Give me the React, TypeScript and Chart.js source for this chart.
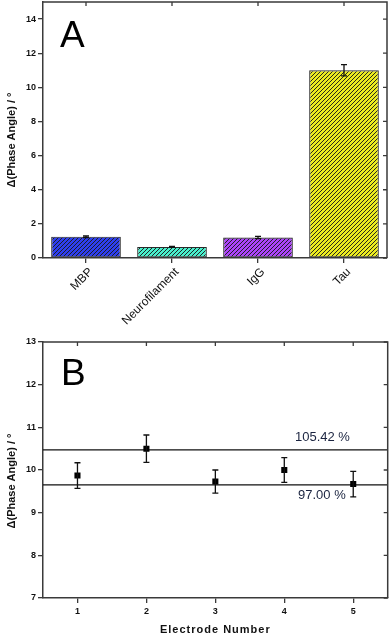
import React, { useEffect, useRef } from "react";
import { Chart, registerables } from "chart.js";

Chart.register(...registerables);

// ---------- Data: panel A ----------
const categoriesA = ["MBP", "Neurofilament", "IgG", "Tau"];
const valuesA = [1.25, 0.65, 1.2, 11.0];
const errorsA = [0.05, 0.03, 0.07, 0.33];
const colorsA = ["#2e3ff0", "#48f0cc", "#ac44fa", "#ecec1e"];
const yTicksA = [0, 2, 4, 6, 8, 10, 12, 14];
const yRangeA = [0, 15];

// ---------- Data: panel B ----------
const electrodes = [1, 2, 3, 4, 5];
const valuesB = [9.87, 10.5, 9.73, 10.0, 9.67];
const errorsB = [0.3, 0.32, 0.27, 0.29, 0.3];
const refLinesB = [10.47, 9.65];
const refLabelsB = ["105.42 %", "97.00 %"];
const yTicksB = [7, 8, 9, 10, 11, 12, 13];
const yRangeB = [7, 13];
const xRangeB = [0.5, 5.5];

const FONT = "'Liberation Sans', Arial, sans-serif";
const AXIS = "#3a3a3a";
const YTITLE = "\u0394(Phase Angle) / \u00b0";

function makeHatch(color: string): CanvasPattern | string {
  const s = 4;
  const c = document.createElement("canvas");
  c.width = s;
  c.height = s;
  const g = c.getContext("2d");
  if (!g) return color;
  g.fillStyle = color;
  g.fillRect(0, 0, s, s);
  g.strokeStyle = "#1c1c1c";
  g.lineWidth = 0.95;
  g.beginPath();
  g.moveTo(0, s);
  g.lineTo(s, 0);
  g.moveTo(-1, 1);
  g.lineTo(1, -1);
  g.moveTo(s - 1, s + 1);
  g.lineTo(s + 1, s - 1);
  g.stroke();
  const p = g.createPattern(c, "repeat");
  return p || color;
}

function zeroPad(s: any) {
  s.paddingTop = 0;
  s.paddingBottom = 0;
  s.paddingLeft = 0;
  s.paddingRight = 0;
}

function drawFrame(chart: any, topTickPx: number[], rightTickPx: number[]) {
  const { ctx, chartArea: a } = chart;
  ctx.save();
  ctx.strokeStyle = AXIS;
  ctx.lineWidth = 1.5;
  ctx.beginPath();
  ctx.moveTo(a.left, a.top);
  ctx.lineTo(a.right, a.top);
  ctx.lineTo(a.right, a.bottom);
  ctx.stroke();
  ctx.lineWidth = 1.3;
  ctx.beginPath();
  topTickPx.forEach((x) => {
    ctx.moveTo(x, a.top);
    ctx.lineTo(x, a.top + 4);
  });
  rightTickPx.forEach((y) => {
    ctx.moveTo(a.right, y);
    ctx.lineTo(a.right - 4, y);
  });
  ctx.stroke();
  ctx.restore();
}

function drawYTitle(ctx: CanvasRenderingContext2D, x: number, y: number) {
  ctx.save();
  ctx.translate(x, y);
  ctx.rotate(-Math.PI / 2);
  ctx.font = `bold 11px ${FONT}`;
  ctx.fillStyle = "#111";
  ctx.textAlign = "center";
  ctx.textBaseline = "middle";
  ctx.fillText(YTITLE, 0, 0);
  ctx.restore();
}

export default function App() {
  const refA = useRef<HTMLCanvasElement | null>(null);
  const refB = useRef<HTMLCanvasElement | null>(null);

  useEffect(() => {
    if (!refA.current || !refB.current) return;
    Chart.defaults.font.family = FONT;

    const extrasA = {
      id: "extrasA",
      afterDatasetsDraw(chart: any) {
        const { ctx } = chart;
        const meta = chart.getDatasetMeta(0);
        const ys = chart.scales.y;
        ctx.save();
        ctx.strokeStyle = "#111";
        ctx.lineWidth = 1.3;
        ctx.beginPath();
        meta.data.forEach((el: any, i: number) => {
          const x = el.x;
          const t = ys.getPixelForValue(valuesA[i] + errorsA[i]);
          const b = ys.getPixelForValue(valuesA[i] - errorsA[i]);
          ctx.moveTo(x, t);
          ctx.lineTo(x, b);
          ctx.moveTo(x - 3, t);
          ctx.lineTo(x + 3, t);
          ctx.moveTo(x - 3, b);
          ctx.lineTo(x + 3, b);
        });
        ctx.stroke();
        ctx.restore();
      },
      afterDraw(chart: any) {
        const xs = chart.scales.x;
        const ys = chart.scales.y;
        const top = xs.ticks.map((_: any, i: number) => xs.getPixelForTick(i));
        const right = ys.ticks.map((t: any) => ys.getPixelForValue(t.value));
        drawFrame(chart, top, right);
        const { ctx } = chart;
        ctx.save();
        ctx.font = `37px ${FONT}`;
        ctx.fillStyle = "#000";
        ctx.textBaseline = "alphabetic";
        ctx.fillText("A", 60, 47);
        ctx.restore();
        drawYTitle(ctx, 12, 140);
      },
    };

    const chartA = new Chart(refA.current, {
      type: "bar",
      data: {
        labels: categoriesA,
        datasets: [
          {
            data: valuesA,
            backgroundColor: colorsA.map(makeHatch) as any,
            borderColor: "#2a2a2a",
            borderWidth: 1.2,
            borderSkipped: false,
            barPercentage: 0.81,
            categoryPercentage: 1,
          },
        ],
      },
      options: {
        animation: false,
        responsive: false,
        layout: { padding: { left: 0, top: 2, right: 5, bottom: 0 } },
        plugins: { legend: { display: false }, tooltip: { enabled: false } },
        scales: {
          x: {
            grid: {
              display: true,
              drawOnChartArea: false,
              drawTicks: true,
              tickLength: 5,
              offset: false,
              color: AXIS,
              lineWidth: 1.3,
            },
            border: { display: true, color: AXIS, width: 1.5 },
            ticks: {
              minRotation: 45,
              maxRotation: 45,
              padding: 2,
              labelOffset: 5,
              color: "#111",
              font: { size: 12, family: FONT },
            },
            afterFit: (s: any) => {
              s.height = 82;
              zeroPad(s);
            },
          },
          y: {
            min: yRangeA[0],
            max: yRangeA[1],
            afterBuildTicks: (s: any) => {
              s.ticks = yTicksA.map((v) => ({ value: v }));
            },
            grid: {
              display: true,
              drawOnChartArea: false,
              drawTicks: true,
              tickLength: 5,
              color: AXIS,
              lineWidth: 1.3,
            },
            border: { display: true, color: AXIS, width: 1.5 },
            ticks: {
              padding: 2,
              color: "#111",
              font: { size: 9, weight: "bold", family: FONT },
            },
            afterFit: (s: any) => {
              s.width = 43;
              zeroPad(s);
            },
          },
        },
      },
      plugins: [extrasA],
    });

    const extrasB = {
      id: "extrasB",
      afterDatasetsDraw(chart: any) {
        const { ctx } = chart;
        const xs = chart.scales.x;
        const ys = chart.scales.y;
        ctx.save();
        ctx.strokeStyle = "#111";
        ctx.lineWidth = 1.3;
        ctx.beginPath();
        electrodes.forEach((e, i) => {
          const x = xs.getPixelForValue(e);
          const t = ys.getPixelForValue(valuesB[i] + errorsB[i]);
          const b = ys.getPixelForValue(valuesB[i] - errorsB[i]);
          ctx.moveTo(x, t);
          ctx.lineTo(x, b);
          ctx.moveTo(x - 3, t);
          ctx.lineTo(x + 3, t);
          ctx.moveTo(x - 3, b);
          ctx.lineTo(x + 3, b);
        });
        ctx.stroke();
        ctx.restore();
      },
      afterDraw(chart: any) {
        const xs = chart.scales.x;
        const ys = chart.scales.y;
        const top = xs.ticks.map((t: any) => xs.getPixelForValue(t.value));
        const right = ys.ticks.map((t: any) => ys.getPixelForValue(t.value));
        drawFrame(chart, top, right);
        const { ctx, chartArea: a } = chart;
        ctx.save();
        ctx.font = `37px ${FONT}`;
        ctx.fillStyle = "#000";
        ctx.textBaseline = "alphabetic";
        ctx.fillText("B", 61, 55);
        // percentage labels
        ctx.font = `13px ${FONT}`;
        ctx.fillStyle = "#1b2440";
        ctx.textBaseline = "middle";
        ctx.textAlign = "left";
        ctx.fillText(refLabelsB[0], 295, ys.getPixelForValue(refLinesB[0]) - 13);
        ctx.fillText(refLabelsB[1], 298, ys.getPixelForValue(refLinesB[1]) + 10);
        // x title
        ctx.font = `bold 11px ${FONT}`;
        ctx.fillStyle = "#111";
        ctx.textAlign = "center";
        (ctx as any).letterSpacing = "1px";
        ctx.fillText("Electrode Number", (a.left + a.right) / 2, 300);
        ctx.restore();
        drawYTitle(ctx, 12, 151);
      },
    };

    const chartB = new Chart(refB.current, {
      type: "scatter",
      data: {
        datasets: [
          {
            data: electrodes.map((x, i) => ({ x, y: valuesB[i] })),
            pointStyle: "rect",
            pointRadius: 4.3,
            backgroundColor: "#000",
            borderColor: "#000",
            borderWidth: 0,
          } as any,
          ...refLinesB.map(
            (v) =>
              ({
                type: "line",
                data: [
                  { x: xRangeB[0], y: v },
                  { x: xRangeB[1], y: v },
                ],
                borderColor: "#111",
                borderWidth: 1.3,
                pointRadius: 0,
                showLine: true,
                fill: false,
              }) as any
          ),
        ],
      },
      options: {
        animation: false,
        responsive: false,
        layout: { padding: { left: 0, top: 12, right: 3, bottom: 0 } },
        plugins: { legend: { display: false }, tooltip: { enabled: false } },
        scales: {
          x: {
            type: "linear",
            min: xRangeB[0],
            max: xRangeB[1],
            afterBuildTicks: (s: any) => {
              s.ticks = electrodes.map((v) => ({ value: v }));
            },
            grid: {
              display: true,
              drawOnChartArea: false,
              drawTicks: true,
              tickLength: 5,
              color: AXIS,
              lineWidth: 1.3,
            },
            border: { display: true, color: AXIS, width: 1.5 },
            ticks: {
              padding: 3,
              color: "#111",
              font: { size: 9, weight: "bold", family: FONT },
            },
            afterFit: (s: any) => {
              s.height = 38;
              zeroPad(s);
            },
          },
          y: {
            min: yRangeB[0],
            max: yRangeB[1],
            afterBuildTicks: (s: any) => {
              s.ticks = yTicksB.map((v) => ({ value: v }));
            },
            grid: {
              display: true,
              drawOnChartArea: false,
              drawTicks: true,
              tickLength: 5,
              color: AXIS,
              lineWidth: 1.3,
            },
            border: { display: true, color: AXIS, width: 1.5 },
            ticks: {
              padding: 2,
              color: "#111",
              font: { size: 9, weight: "bold", family: FONT },
            },
            afterFit: (s: any) => {
              s.width = 43;
              zeroPad(s);
            },
          },
        },
      },
      plugins: [extrasB],
    });

    return () => {
      chartA.destroy();
      chartB.destroy();
    };
  }, []);

  return (
    <div
      style={{
        position: "absolute",
        left: 0,
        top: 0,
        width: 392,
        height: 636,
        background: "#fff",
        overflow: "hidden",
      }}
    >
      <canvas
        ref={refA}
        width={392}
        height={340}
        style={{ position: "absolute", left: 0, top: 0, display: "block" }}
      />
      <canvas
        ref={refB}
        width={392}
        height={306}
        style={{ position: "absolute", left: 0, top: 330, display: "block" }}
      />
    </div>
  );
}
